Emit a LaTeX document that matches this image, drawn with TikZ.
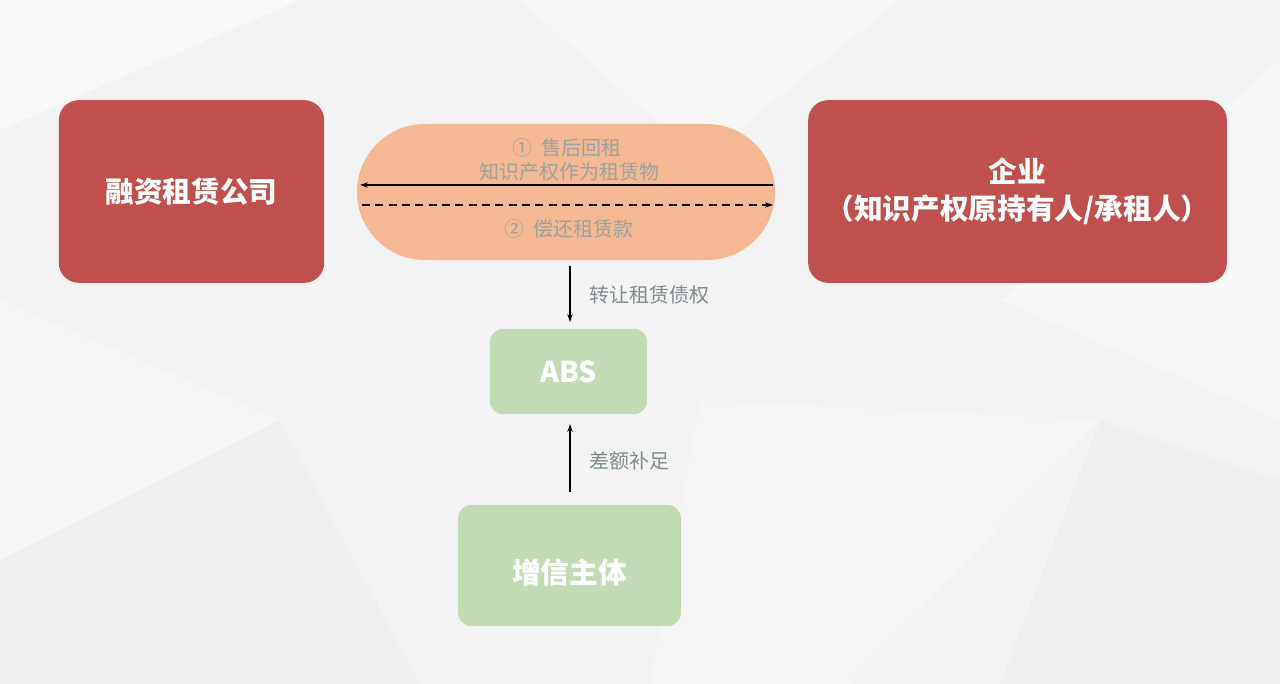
\documentclass[tikz,border=0pt]{standalone}
\usepackage{fontspec}
\setmainfont{Noto Sans CJK SC}
\usetikzlibrary{arrows.meta}
\definecolor{redbox}{HTML}{C0504D}
\definecolor{pill}{HTML}{F4B994}
\definecolor{greenbox}{HTML}{C3DBB5}
\definecolor{lbl}{HTML}{7F8C8D}
\definecolor{ptxt}{HTML}{9EA29C}
\definecolor{bg}{HTML}{F3F3F3}
\tikzset{
 redb/.style={fill=redbox,rounded corners=15pt,text=white,font=\bfseries\fontsize{21.5}{28}\selectfont,align=center},
 greenb/.style={fill=greenbox,rounded corners=10pt,text=white,font=\bfseries\fontsize{21.5}{28}\selectfont},
 lab/.style={text=lbl,font=\fontsize{15}{18}\selectfont},
 plab/.style={text=ptxt,font=\fontsize{15}{18}\selectfont,align=center},
 arr/.style={-{Stealth[length=6pt,width=4pt]},line width=0.8pt}
}
\begin{document}
\begin{tikzpicture}[x=0.75pt,y=-0.75pt]
\fill[bg] (0,0) rectangle (1280,684);
\useasboundingbox (0,0) rectangle (1280,684);
\fill[white,opacity=0.5] (0,0) -- (300,0) -- (0,130) -- cycle;
\fill[white,opacity=0.4] (520,0) -- (900,0) -- (700,160) -- cycle;
\fill[white,opacity=0.4] (1280,60) -- (1280,420) -- (1000,300) -- cycle;
\fill[white,opacity=0.3] (700,400) -- (1100,420) -- (850,684) -- (650,684) -- cycle;
\fill[white,opacity=0.3] (0,300) -- (280,420) -- (0,560) -- cycle;
\fill[black,opacity=0.02] (0,560) -- (280,420) -- (420,684) -- (0,684) -- cycle;
\fill[black,opacity=0.02] (1100,420) -- (1280,480) -- (1280,684) -- (1000,684) -- cycle;

\node[redb,minimum width=199pt,minimum height=137pt] (L) at (191.5,191.5) {融资租赁公司};
\node[redb,minimum width=314pt,minimum height=137pt] (R) at (1017.5,191.5) {企业\\（知识产权原持有人/承租人）};
\node[fill=pill,rounded corners=51pt,minimum width=313.5pt,minimum height=102pt] (P) at (566,192) {};
\node[plab] (t1) at (567,148) {①\ \ 售后回租};
\node[plab] (t1b) at (569,172) {知识产权作为租赁物};
\node[plab] (t2) at (569,229) {②\ \ 偿还租赁款};
\coordinate (a1) at (773,185); \coordinate (a2) at (360,185);
\coordinate (b1) at (362,205); \coordinate (b2) at (773,205);
\draw[arr] (a1) -- (a2);
\draw[arr,dashed,dash pattern=on 6pt off 4pt] (b1) -- (b2);
\node[greenb,minimum width=118pt,minimum height=64pt] (A) at (568.5,371.5) {ABS};
\node[greenb,minimum width=167pt,minimum height=91pt] (Z) at (569.5,565.5) {};
\node[text=white,font=\bfseries\fontsize{21.5}{28}\selectfont] (Zt) at (569.5,573) {增信主体};
\coordinate (c1) at (570,266);
\draw[arr] (c1) -- (570,322);
\node[lab] at (649,295) {转让租赁债权};
\coordinate (d1) at (570,492);
\draw[arr] (d1) -- (570,424);
\node[lab] at (629,461) {差额补足};
\end{tikzpicture}
\end{document}
